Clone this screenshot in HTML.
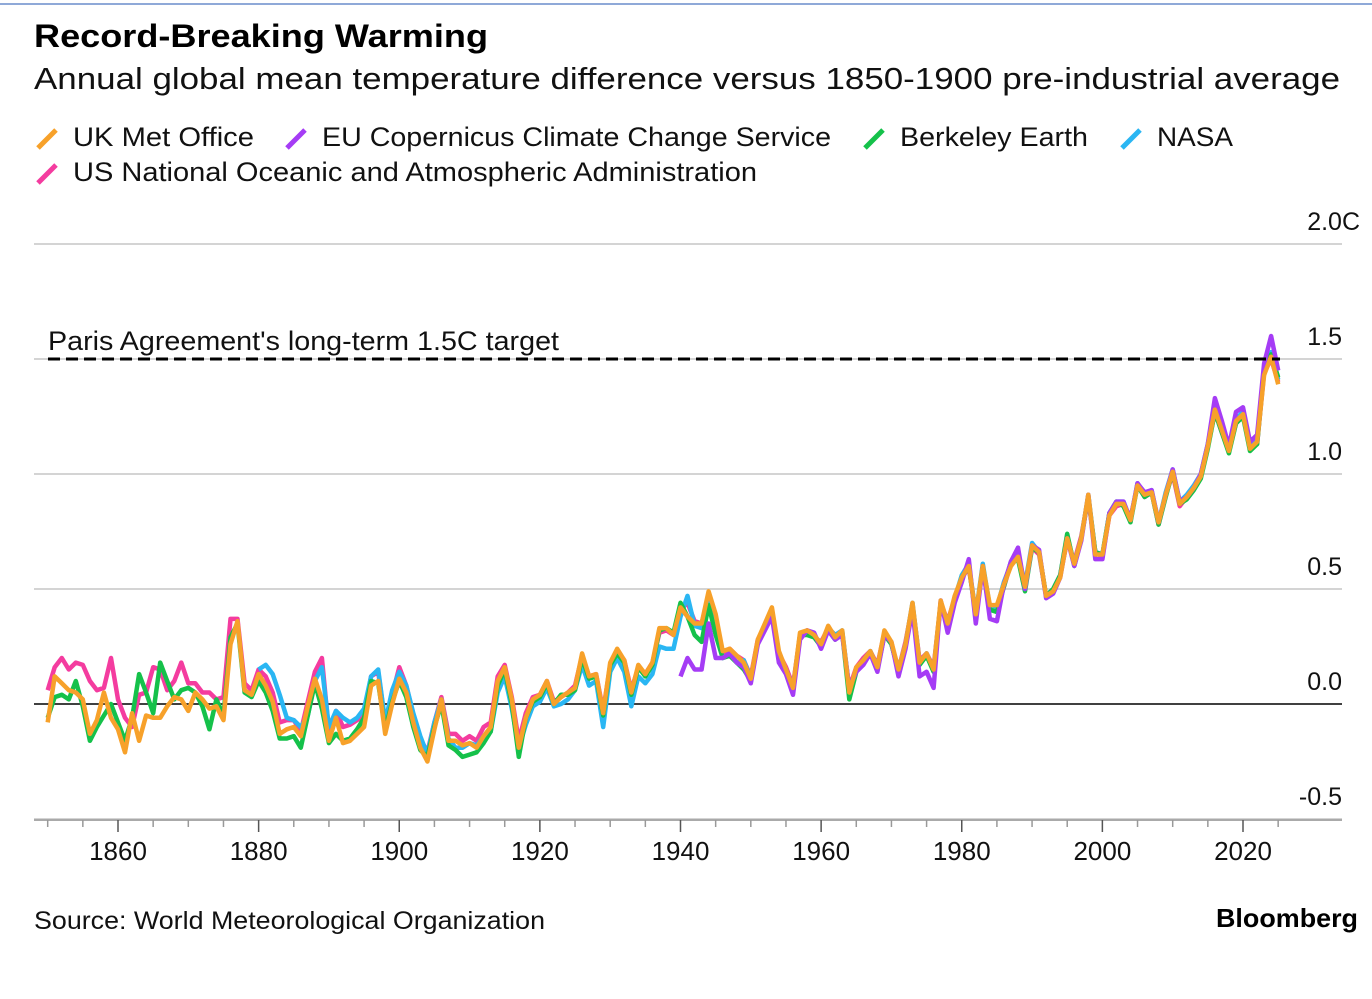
<!DOCTYPE html>
<html><head><meta charset="utf-8"><style>
html,body{margin:0;padding:0;background:#fff;}
body{width:1372px;height:994px;overflow:hidden;font-family:"Liberation Sans",sans-serif;}
svg text{font-family:"Liberation Sans",sans-serif;}
</style></head><body>
<svg id="chart" width="1372" height="994" xmlns="http://www.w3.org/2000/svg">
<rect x="0" y="3" width="1372" height="2" fill="#8fa9d8"/>
<text x="34" y="47" font-size="32" font-weight="bold" fill="#000" textLength="454" lengthAdjust="spacingAndGlyphs">Record-Breaking Warming</text>
<text x="34" y="89" font-size="31" fill="#111" textLength="1306" lengthAdjust="spacingAndGlyphs">Annual global mean temperature difference versus 1850-1900 pre-industrial average</text>
<g font-size="27" fill="#111">
 <g><line x1="38" y1="148" x2="56" y2="130" stroke="#f7a12a" stroke-width="5"/><text x="73" y="146" textLength="181" lengthAdjust="spacingAndGlyphs">UK Met Office</text></g>
 <g><line x1="287" y1="148" x2="305" y2="130" stroke="#a53cf5" stroke-width="5"/><text x="322" y="146" textLength="509" lengthAdjust="spacingAndGlyphs">EU Copernicus Climate Change Service</text></g>
 <g><line x1="865" y1="148" x2="883" y2="130" stroke="#15c14a" stroke-width="5"/><text x="900" y="146" textLength="188" lengthAdjust="spacingAndGlyphs">Berkeley Earth</text></g>
 <g><line x1="1122" y1="148" x2="1140" y2="130" stroke="#2ab6f3" stroke-width="5"/><text x="1157" y="146" textLength="76" lengthAdjust="spacingAndGlyphs">NASA</text></g>
 <g><line x1="38" y1="183" x2="56" y2="165" stroke="#f43c9f" stroke-width="5"/><text x="73" y="181" textLength="684" lengthAdjust="spacingAndGlyphs">US National Oceanic and Atmospheric Administration</text></g>
</g>
<g id="grid"></g>
<g id="yticks"></g>
<g id="xaxis"></g>
<g id="series"></g>
<line id="paris" x1="48" x2="1280" y1="359" y2="359" stroke="#000" stroke-width="3" stroke-dasharray="12,6"/>
<text x="48" y="350" font-size="27" fill="#111" textLength="511" lengthAdjust="spacingAndGlyphs">Paris Agreement's long-term 1.5C target</text>
<text x="34" y="929" font-size="25" fill="#111" textLength="511" lengthAdjust="spacingAndGlyphs">Source: World Meteorological Organization</text>
<text x="1216" y="927" font-size="26" font-weight="bold" fill="#000" textLength="142" lengthAdjust="spacingAndGlyphs">Bloomberg</text>
</svg>
<script>
const yTicks = [-0.5, 0.0, 0.5, 1.0, 1.5, 2.0];
const yTickLabels = ["-0.5", "0.0", "0.5", "1.0", "1.5", "2.0C"];
const xTicks = [1860, 1880, 1900, 1920, 1940, 1960, 1980, 2000, 2020];
const parisTarget = 1.5;
const ukStart = 1850;
const ukMet = [-0.08,0.12,0.09,0.06,0.05,0.02,-0.13,-0.07,0.05,-0.06,
-0.11,-0.21,-0.04,-0.16,-0.05,-0.06,-0.06,-0.01,0.03,0.02,
-0.03,0.05,0.02,-0.02,-0.01,-0.07,0.26,0.36,0.06,0.04,
0.13,0.08,0.01,-0.13,-0.11,-0.10,-0.14,-0.01,0.11,0.02,
-0.16,-0.06,-0.17,-0.16,-0.13,-0.10,0.08,0.10,-0.13,0.00,
0.11,0.05,-0.08,-0.19,-0.25,-0.11,0.02,-0.16,-0.16,-0.18,
-0.17,-0.19,-0.14,-0.10,0.10,0.16,0.02,-0.19,-0.06,0.02,
0.04,0.10,0.00,0.03,0.05,0.07,0.22,0.12,0.13,-0.04,
0.18,0.24,0.19,0.05,0.17,0.13,0.18,0.33,0.33,0.30,
0.42,0.38,0.35,0.35,0.49,0.39,0.23,0.24,0.21,0.18,
0.11,0.28,0.35,0.42,0.23,0.15,0.07,0.31,0.32,0.30,
0.26,0.34,0.29,0.32,0.05,0.16,0.19,0.23,0.16,0.32,
0.27,0.15,0.26,0.44,0.18,0.22,0.15,0.45,0.35,0.47,
0.55,0.60,0.39,0.60,0.43,0.43,0.52,0.60,0.64,0.51,
0.69,0.66,0.47,0.49,0.55,0.72,0.61,0.72,0.91,0.65,
0.65,0.82,0.87,0.87,0.80,0.95,0.91,0.92,0.79,0.91,
1.01,0.87,0.90,0.94,0.99,1.12,1.28,1.19,1.10,1.23,
1.26,1.11,1.14,1.43,1.51,1.39];
const noaaStart = 1850;
const noaa = [0.06,0.16,0.20,0.15,0.18,0.17,0.10,0.06,0.07,0.20,
0.02,-0.06,-0.10,0.04,0.05,0.16,0.15,0.06,0.10,0.18,
0.09,0.09,0.05,0.05,0.02,0.03,0.37,0.37,0.09,0.06,
0.15,0.12,0.05,-0.08,-0.07,-0.07,-0.12,0.01,0.14,0.20,
-0.12,-0.03,-0.10,-0.09,-0.07,-0.05,0.12,0.14,-0.08,0.04,
0.16,0.08,-0.05,-0.15,-0.21,-0.08,0.03,-0.13,-0.13,-0.16,
-0.14,-0.16,-0.10,-0.08,0.12,0.17,0.03,-0.16,-0.04,0.03,
0.04,0.10,0.01,0.03,0.05,0.08,0.21,0.12,0.13,-0.03,
0.17,0.23,0.19,0.06,0.16,0.13,0.18,0.31,0.32,0.30,
0.41,0.44,0.36,0.35,0.47,0.38,0.22,0.24,0.21,0.19,
0.12,0.28,0.34,0.41,0.22,0.16,0.08,0.30,0.32,0.29,
0.27,0.33,0.30,0.31,0.07,0.16,0.20,0.23,0.17,0.31,
0.26,0.15,0.27,0.43,0.19,0.22,0.16,0.44,0.36,0.46,
0.55,0.59,0.40,0.58,0.42,0.42,0.51,0.61,0.64,0.52,
0.68,0.65,0.47,0.50,0.56,0.71,0.62,0.73,0.90,0.66,
0.64,0.82,0.86,0.87,0.81,0.95,0.90,0.92,0.78,0.91,
1.00,0.86,0.90,0.94,0.99,1.12,1.27,1.18,1.10,1.22,
1.26,1.11,1.13,1.44,1.50,1.40];
const berkeleyStart = 1850;
const berkeley = [-0.06,0.03,0.04,0.02,0.10,-0.01,-0.16,-0.10,-0.05,0.00,
-0.08,-0.16,-0.06,0.13,0.05,-0.04,0.18,0.10,0.02,0.06,
0.07,0.05,-0.01,-0.11,0.02,-0.05,0.29,0.35,0.05,0.03,
0.10,0.05,-0.03,-0.15,-0.15,-0.14,-0.19,-0.05,0.09,-0.02,
-0.17,-0.13,-0.16,-0.15,-0.11,-0.06,0.10,0.09,-0.11,0.01,
0.10,0.03,-0.10,-0.20,-0.23,-0.10,0.00,-0.18,-0.20,-0.23,
-0.22,-0.21,-0.17,-0.12,0.08,0.15,0.00,-0.23,-0.06,0.01,
0.03,0.09,0.00,0.04,0.04,0.06,0.20,0.11,0.12,-0.05,
0.17,0.22,0.18,0.04,0.16,0.12,0.17,0.32,0.33,0.31,
0.44,0.38,0.30,0.27,0.43,0.30,0.20,0.21,0.18,0.15,
0.10,0.27,0.33,0.40,0.21,0.14,0.06,0.30,0.30,0.29,
0.25,0.32,0.28,0.31,0.02,0.14,0.18,0.22,0.15,0.30,
0.26,0.14,0.25,0.43,0.17,0.21,0.14,0.44,0.35,0.46,
0.55,0.60,0.38,0.60,0.41,0.40,0.51,0.62,0.63,0.49,
0.68,0.66,0.47,0.50,0.56,0.74,0.60,0.72,0.90,0.66,
0.65,0.83,0.88,0.86,0.79,0.95,0.90,0.92,0.78,0.90,
1.01,0.87,0.89,0.93,0.98,1.11,1.27,1.18,1.09,1.22,
1.25,1.10,1.13,1.45,1.52,1.42];
const nasaStart = 1880;
const nasa = [0.15,0.17,0.13,0.04,-0.06,-0.07,-0.10,-0.05,0.10,0.16,
-0.10,-0.03,-0.06,-0.08,-0.06,-0.02,0.12,0.15,-0.08,0.06,
0.14,0.08,-0.04,-0.14,-0.22,-0.08,0.02,-0.15,-0.19,-0.19,
-0.17,-0.18,-0.14,-0.12,0.05,0.12,-0.02,-0.19,-0.09,-0.01,
0.01,0.07,-0.01,0.00,0.02,0.06,0.17,0.08,0.10,-0.10,
0.14,0.20,0.14,-0.01,0.12,0.09,0.13,0.25,0.24,0.24,
0.38,0.47,0.34,0.33,0.46,0.33,0.20,0.22,0.18,0.19,
0.11,0.27,0.34,0.41,0.21,0.15,0.07,0.30,0.31,0.30,
0.26,0.33,0.30,0.32,0.06,0.15,0.19,0.23,0.16,0.31,
0.26,0.15,0.26,0.44,0.18,0.22,0.15,0.44,0.35,0.46,
0.56,0.61,0.39,0.61,0.42,0.42,0.53,0.61,0.65,0.52,
0.70,0.66,0.47,0.50,0.56,0.73,0.61,0.72,0.91,0.66,
0.65,0.83,0.88,0.88,0.80,0.96,0.91,0.93,0.79,0.92,
1.02,0.88,0.91,0.95,1.00,1.13,1.29,1.20,1.11,1.24,
1.27,1.12,1.15,1.45,1.53,1.41];
const copernicusStart = 1940;
const copernicus = [0.12,0.20,0.15,0.15,0.35,0.20,0.20,0.22,0.18,0.16,
0.09,0.26,0.32,0.38,0.18,0.13,0.04,0.28,0.32,0.31,
0.24,0.32,0.28,0.30,0.07,0.14,0.17,0.22,0.14,0.30,
0.27,0.12,0.24,0.41,0.12,0.14,0.07,0.45,0.31,0.44,
0.53,0.63,0.35,0.60,0.37,0.36,0.52,0.62,0.68,0.50,
0.69,0.67,0.46,0.48,0.55,0.72,0.60,0.71,0.91,0.63,
0.63,0.83,0.88,0.88,0.80,0.96,0.92,0.93,0.79,0.91,
1.02,0.88,0.90,0.94,1.00,1.13,1.33,1.23,1.12,1.27,
1.29,1.14,1.17,1.48,1.60,1.45];

const NS = "http://www.w3.org/2000/svg";
function xScale(yr){ return 118 + (yr - 1860) * (1125/160); }
function yScale(v){ return 704 - v * 230; }

const grid = document.getElementById('grid');
const yt = document.getElementById('yticks');
yTicks.forEach((t,i)=>{
  const l = document.createElementNS(NS,'line');
  l.setAttribute('x1',34); l.setAttribute('x2',1342);
  l.setAttribute('y1',yScale(t)); l.setAttribute('y2',yScale(t));
  l.setAttribute('stroke', t===0 ? '#000' : '#d4d4d4');
  l.setAttribute('stroke-width', t===0 ? 1.5 : 2);
  
  
  grid.appendChild(l);
  const tx = document.createElementNS(NS,'text');
  tx.setAttribute('x', t===2 ? 1360 : 1342); tx.setAttribute('y', yScale(t)-14);
  tx.setAttribute('text-anchor','end'); tx.setAttribute('font-size','25'); tx.setAttribute('fill','#111');
  tx.textContent = yTickLabels[i];
  
  
  yt.appendChild(tx);
});
document.getElementById('paris').setAttribute('y1', yScale(parisTarget));
document.getElementById('paris').setAttribute('y2', yScale(parisTarget));

const xa = document.getElementById('xaxis');
const base = document.createElementNS(NS,'line');
base.setAttribute('x1',34); base.setAttribute('x2',1342); base.setAttribute('y1',820); base.setAttribute('y2',820);
base.setAttribute('stroke','#aaa'); base.setAttribute('stroke-width','2');


xa.appendChild(base);
for(let yr=1850; yr<=2025; yr+=5){
  const major = xTicks.includes(yr);
  const tk = document.createElementNS(NS,'line');
  tk.setAttribute('x1',xScale(yr)); tk.setAttribute('x2',xScale(yr));
  tk.setAttribute('y1',820); tk.setAttribute('y2', major ? 832 : 827);
  tk.setAttribute('stroke', major ? '#555' : '#999'); tk.setAttribute('stroke-width', 1.5);
  
  
  xa.appendChild(tk);
}
xTicks.forEach(yr=>{
  const tx = document.createElementNS(NS,'text');
  tx.setAttribute('x', xScale(yr)); tx.setAttribute('y', 860);
  tx.setAttribute('text-anchor','middle'); tx.setAttribute('font-size','26'); tx.setAttribute('fill','#111');
  tx.textContent = yr;
  
  
  xa.appendChild(tx);
});

const sg = document.getElementById('series');
function drawSeries(values, start, color, name){
  const pts = values.map((v,i)=> xScale(start+i).toFixed(1)+','+yScale(v).toFixed(1)).join(' ');
  const p = document.createElementNS(NS,'polyline');
  p.setAttribute('points', pts);
  p.setAttribute('fill','none'); p.setAttribute('stroke',color);
  p.setAttribute('stroke-width','4.5'); p.setAttribute('stroke-linejoin','round');
  
  
  sg.appendChild(p);
}
drawSeries(noaa, noaaStart, '#f43c9f', 'noaa-line');
drawSeries(nasa, nasaStart, '#2ab6f3', 'nasa-line');
drawSeries(berkeley, berkeleyStart, '#15c14a', 'berkeley-line');
drawSeries(copernicus, copernicusStart, '#a53cf5', 'copernicus-line');
drawSeries(ukMet, ukStart, '#f7a12a', 'uk-met-office-line');
</script>
</body></html>
